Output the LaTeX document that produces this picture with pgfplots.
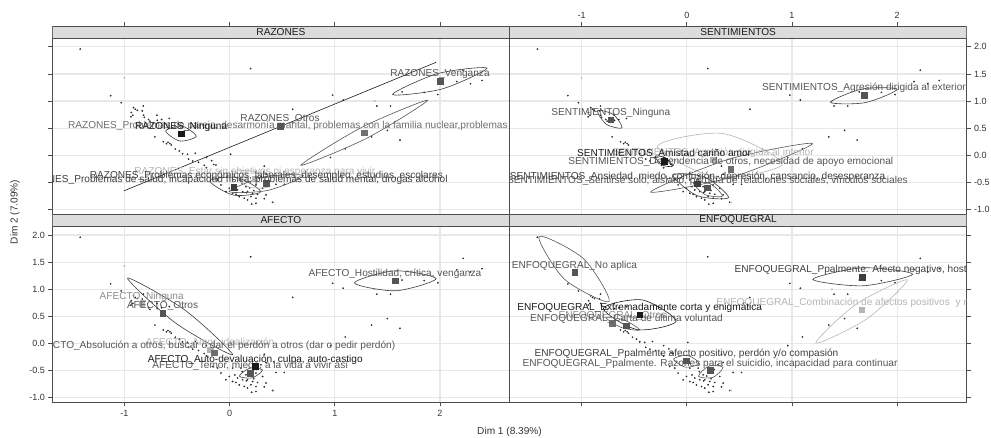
\documentclass[border=0pt]{standalone}
\usepackage{fontspec}
\setmainfont{Liberation Sans}
\usepackage{pgfplots}
\usepackage{pgfplotstable}
\pgfplotsset{compat=1.18}

% grey shades used for the categories
\definecolor{c1}{HTML}{1A1A1A}
\definecolor{c2}{HTML}{3D3D3D}
\definecolor{c3}{HTML}{555555}
\definecolor{c4}{HTML}{6E6E6E}
\definecolor{c5}{HTML}{8C8C8C}
\definecolor{c6}{HTML}{B4B4B4}
\definecolor{gridc}{HTML}{E8E8E8}
\definecolor{framec}{HTML}{4D4D4D}
\definecolor{stripc}{HTML}{DCDCDC}
\definecolor{tickc}{HTML}{333333}
\definecolor{dotc}{HTML}{2E2E2E}

\newcommand\labfont{\fontsize{10.1pt}{12pt}\selectfont}
\newcommand\tickfont{\fontsize{9pt}{10.5pt}\selectfont}

% individuals (Dim 1, Dim 2)
\pgfplotstableread{
x y
-1.42 1.96
-1.13 1.10
-1.03 0.97
0.20 1.60
0.60 0.85
0.98 1.11
1.08 1.02
1.40 0.91
1.53 0.91
1.62 0.28
1.35 0.34
1.50 0.46
1.10 0.12
1.98 1.12
1.85 1.16
2.16 1.36
2.29 1.32
2.40 1.38
2.22 1.57
1.64 1.17
0.96 -0.04
0.33 -0.20
0.01 0.02
-0.913 0.88
-0.896 0.85
-0.934 0.79
-0.92 0.74
-0.937 0.71
-0.877 0.83
-0.82 0.91
-0.83 0.82
-0.817 0.74
-0.81 0.70
-0.77 0.66
-0.757 0.63
-0.69 0.74
-0.687 0.645
-0.646 0.66
-0.573 0.68
-0.71 0.34
-0.63 0.25
-0.60 0.215
-0.585 0.24
-0.567 0.215
-0.554 0.19
-0.516 0.116
-0.478 0.08
-0.447 0.03
-0.40 0.02
-0.39 -0.07
-0.35 -0.105
-0.326 0.037
-0.295 -0.13
-0.24 -0.185
-0.22 -0.23
-0.22 -0.04
-0.17 -0.10
-0.15 -0.17
-0.13 -0.18
-0.162 -0.424
-0.034 -0.670
0.029 -0.701
0.092 -0.764
0.124 -0.670
0.156 -0.578
0.219 -0.701
0.251 -0.793
0.251 -0.886
0.266 -0.720
0.346 -0.730
0.441 -0.535
0.520 -0.535
0.409 -0.867
0.171 -0.823
0.061 -0.720
-0.003 -0.609
0.029 -0.454
0.108 -0.454
0.298 -0.393
0.346 -0.350
-0.082 -0.546
-0.114 -0.454
0.251 -0.546
0.203 -0.762
0.140 -0.793
0.076 -0.638
0.171 -0.670
0.314 -0.609
0.19 -0.60
0.12 -0.52
0.23 -0.65
0.05 -0.58
0.26 -0.48
0.16 -0.69
0.33 -0.80
0.21 -0.90
}\indiv

\pgfplotstableread{
x y
-1.00 1.43
1.38 1.00
0.42 -0.87
}\indivlight

\pgfplotsset{
  panel/.style={
    scale only axis, width=457.2pt, height=188.07pt,
    xmin=-1.685, xmax=2.661, ymin=-1.085, ymax=2.385,
    xtick={-1,0,1,2}, ytick={-1,-0.5,0,0.5,1,1.5,2},
    grid=major, major grid style={draw=gridc, line width=1.2pt},
    axis line style={draw=framec, line width=0.8pt},
    tick style={draw=framec, line width=0.8pt},
    tick align=outside, major tick length=4pt,
    ticklabel style={font=\tickfont, text=tickc},
    yticklabel style={/pgf/number format/fixed,
      /pgf/number format/fixed zerofill, /pgf/number format/precision=1},
    /pgf/number format/assume math mode=true,
    clip=true, clip marker paths=true, anchor=south west,
  },
}

% one category: square marker with its name above it
\newcommand\cat[3]{%
  \addplot[only marks, mark=square*, mark size=2.8pt, draw=#1, fill=#1,
    point meta=explicit symbolic, nodes near coords,
    nodes near coords style={text=#2, font=\labfont, anchor=center,
      yshift=7pt, inner sep=0pt}]
    coordinates {#3};}

% confidence ellipse through its four vertices
\newcommand\conf[2]{%
  \addplot[draw=#1, line width=0.6pt, smooth cycle, mark=none]
    coordinates {#2};}

\newcommand\indivpts{%
  \addplot[only marks, mark=*, mark size=0.65pt, draw=dotc, fill=dotc]
    table {\indiv};
  \addplot[only marks, mark=*, mark size=0.65pt, draw=c6, fill=c6]
    table {\indivlight};}

\newcommand\strip[1]{%
  \draw[draw=framec, line width=0.8pt, fill=stripc]
    (rel axis cs:0,0.9366) rectangle (rel axis cs:1,1);
  \node[font=\labfont, text=c1] at (rel axis cs:0.5,0.9683) {#1};}

\begin{document}
\begin{tikzpicture}
\path[use as bounding box] (0pt,0pt) rectangle (991pt,437pt);

% RAZONES
\begin{axis}[panel, at={(52.3pt,222.9pt)},
  xtick pos=right, ytick pos=left, xticklabels={}, yticklabels={}]
\indivpts
\conf{c2}{(2.447,1.608) (1.978,1.507) (1.549,1.122) (2.019,1.223)}
\addplot[draw=c1, line width=0.6pt, mark=none] coordinates {(-1.005,-0.657) (1.965,1.717)};
\conf{c2}{(-0.317,0.350) (-0.450,0.536) (-0.607,0.450) (-0.474,0.264)}
\conf{c3}{(1.882,1.015) (1.254,0.513) (0.678,-0.185) (1.306,0.317)}
\conf{c2}{(0.296,-0.672) (0.072,-0.410) (-0.188,-0.472) (0.036,-0.734)}
\conf{c3}{(0.702,-0.376) (0.335,-0.396) (-0.004,-0.668) (0.363,-0.648)}
\conf{c6}{(0.385,-0.569) (0.232,-0.304) (0.027,-0.317) (0.180,-0.582)}
\cat{c6}{c6}{(0.24,-0.43) [{RAZONES\_Estar sin objetivos ni esperanza para vivir}]}
\cat{c4}{c4}{(1.28,0.42) [{RAZONES\_Problemas de pareja, desarmonía marital, problemas con la familia nuclear,problemas con la familia de origen y extensa}]}
\cat{c3}{c3}{(2.0,1.37) [{RAZONES\_Venganza}]}
\cat{c3}{c3}{(0.48,0.535) [{RAZONES\_Otros}]}
\cat{c3}{c2}{(0.35,-0.51) [{RAZONES\_Problemas económicos, laborales, desempleo, estudios, escolares}]}
\cat{c2}{c2}{(0.04,-0.59) [{RAZONES\_Problemas de salud, incapacidad física, problemas de salud mental, drogas alcohol}]}
\cat{c1}{c1}{(-0.46,0.40) [{RAZONES\_Ninguna}]}
\strip{RAZONES}
\end{axis}

% SENTIMIENTOS
\begin{axis}[panel, at={(509.5pt,222.9pt)},
  xtick pos=right, ytick pos=right, xticklabel pos=right, yticklabel pos=right]
\indivpts
\conf{c2}{(2.000,1.218) (1.670,1.225) (1.366,0.978) (1.696,0.971)}
\conf{c2}{(-0.615,0.505) (-0.699,0.755) (-0.849,0.823) (-0.765,0.573)}
\conf{c6}{(0.907,-0.162) (0.343,0.402) (-0.279,0.162) (0.285,-0.402)}
\conf{c3}{(1.195,0.216) (0.401,-0.072) (-0.343,-0.678) (0.451,-0.390)}
\conf{c2}{(0.397,-0.780) (0.169,-0.401) (-0.131,-0.364) (0.097,-0.743)}
\conf{c3}{(0.338,-0.752) (0.224,-0.527) (0.062,-0.502) (0.176,-0.727)}
\conf{c1}{(-0.137,-0.203) (-0.200,-0.047) (-0.301,-0.019) (-0.238,-0.175)}
\cat{c6}{c6}{(0.252,-0.079) [{SENTIMIENTOS\_Agresión dirigida al interior}]}
\cat{c4}{c3}{(0.418,-0.258) [{SENTIMIENTOS\_Dependencia de otros, necesidad de apoyo emocional}]}
\cat{c3}{c3}{(0.197,-0.596) [{SENTIMIENTOS\_Sentirse solo, aislado, pérdida de relaciones sociales, vínculos sociales}]}
\cat{c2}{c2}{(0.102,-0.522) [{SENTIMIENTOS\_Ansiedad, miedo, confusión, depresión, cansancio, desesperanza}]}
\cat{c3}{c3}{(1.685,1.107) [{SENTIMIENTOS\_Agresión dirigida al exterior}]}
\cat{c3}{c3}{(-0.722,0.659) [{SENTIMIENTOS\_Ninguna}]}
\cat{c1}{c1}{(-0.215,-0.111) [{SENTIMIENTOS\_Amistad cariño amor}]}
\strip{SENTIMIENTOS}
\end{axis}

% AFECTO
\begin{axis}[panel, at={(52.3pt,34.7pt)},
  xtick pos=left, ytick pos=left]
\indivpts
\conf{c2}{(1.964,1.196) (1.570,1.341) (1.186,1.118) (1.580,0.973)}
\conf{c2}{(-0.970,1.207) (-0.426,0.619) (0.029,-0.208) (-0.515,0.380)}
\conf{c2}{(0.313,-0.489) (0.191,-0.457) (0.093,-0.603) (0.215,-0.635)}
\cat{c6}{c5}{(-0.835,0.732) [{AFECTO\_Ninguna}]}
\cat{c6}{c6}{(-0.185,-0.111) [{AFECTO\_Amor, idealización}]}
\cat{c3}{c3}{(1.572,1.157) [{AFECTO\_Hostilidad, crítica, venganza}]}
\cat{c3}{c3}{(-0.637,0.561) [{AFECTO\_Otros}]}
\cat{c4}{c3}{(-0.145,-0.172) [{AFECTO\_Absolución a otros, buscar o dar el perdón a otros (dar o pedir perdón)}]}
\cat{c3}{c3}{(0.197,-0.546) [{AFECTO\_Temor, miedo, a la vida a vivir así}]}
\cat{c1}{c1}{(0.244,-0.424) [{AFECTO\_Auto-devaluación, culpa, auto-castigo}]}
\strip{AFECTO}
\end{axis}

% ENFOQUEGRAL
\begin{axis}[panel, at={(509.5pt,34.7pt)},
  xtick pos=left, ytick pos=right, xticklabels={}, yticklabels={}]
\indivpts
\conf{c3}{(-1.404,1.975) (-0.981,1.564) (-0.738,0.775) (-1.162,1.186)}
\conf{c2}{(2.148,1.279) (1.669,1.397) (1.198,1.183) (1.677,1.065)}
\conf{c6}{(2.098,1.175) (1.613,0.728) (1.226,0.007) (1.711,0.454)}
\conf{c1}{(-0.101,0.411) (-0.422,0.803) (-0.793,0.649) (-0.472,0.257)}
\conf{c3}{(-0.447,0.250) (-0.595,0.433) (-0.769,0.478) (-0.621,0.295)}
\conf{c3}{(0.119,-0.370) (0.007,-0.219) (-0.125,-0.286) (-0.013,-0.437)}
\conf{c3}{(0.344,-0.440) (0.209,-0.418) (0.112,-0.604) (0.248,-0.626)}
\cat{c6}{c6}{(1.661,0.622) [{ENFOQUEGRAL\_Combinación de afectos positivos\ \ y negativos}]}
\cat{c4}{c5}{(-0.706,0.37) [{ENFOQUEGRAL\_Otros}]}
\cat{c3}{c3}{(-1.067,1.310) [{ENFOQUEGRAL\_No aplica}]}
\cat{c3}{c3}{(-0.573,0.332) [{ENFOQUEGRAL\_Carta de última voluntad}]}
\cat{c3}{c3}{(0.221,-0.498) [{ENFOQUEGRAL\_Ppalmente. Razones para el suicidio, incapacidad para continuar}]}
\cat{c3}{c2}{(-0.003,-0.319) [{ENFOQUEGRAL\_Ppalmente afecto positivo, perdón y/o compasión}]}
\cat{c2}{c2}{(1.670,1.225) [{ENFOQUEGRAL\_Ppalmente. Afecto negativo, hostilidad}]}
\cat{c1}{c1}{(-0.447,0.530) [{ENFOQUEGRAL\_Extremadamente corta y enigmática}]}
\strip{ENFOQUEGRAL}
\end{axis}

\node[font=\labfont, text=tickc] at (509.5pt,5pt) {Dim 1 (8.39\%)};
\node[font=\labfont, text=tickc, rotate=90] at (15pt,225pt) {Dim 2 (7.09\%)};
\end{tikzpicture}
\end{document}
